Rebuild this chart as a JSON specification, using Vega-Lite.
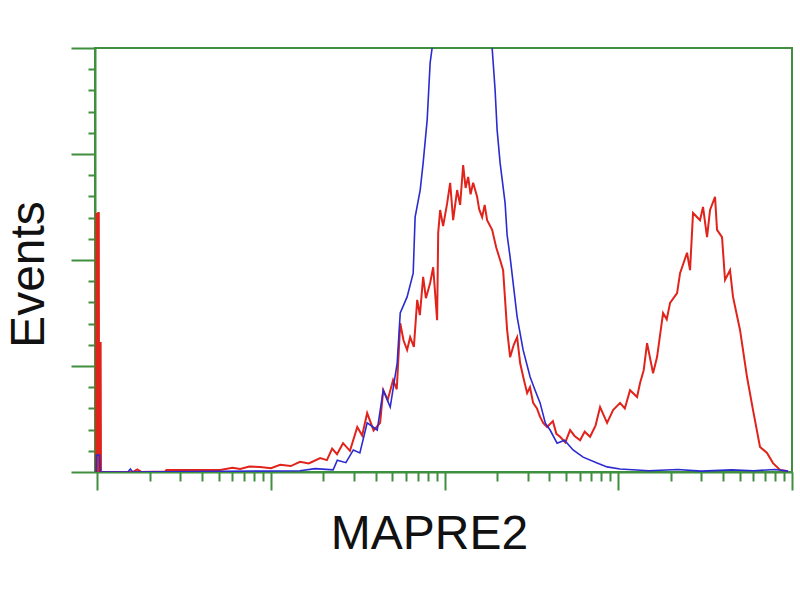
{
  "$schema": "https://vega.github.io/schema/vega-lite/v6.json",
  "width": 697,
  "height": 424,
  "autosize": "none",
  "padding": {"left": 95, "top": 48, "right": 8, "bottom": 128},
  "background": "white",
  "config": {
    "view": {"stroke": "#3f8f3f", "strokeWidth": 2},
    "font": "Liberation Sans"
  },
  "datasets": {
    "red": [
      {"v": 0.985, "n": 0}, {"v": 0.988, "n": 61.1}, {"v": 0.996, "n": 0}, {"v": 1.0, "n": 61.1},
      {"v": 1.008, "n": 0}, {"v": 1.012, "n": 61.1}, {"v": 1.02, "n": 61.1}, {"v": 1.022, "n": 30.4},
      {"v": 1.03, "n": 0}, {"v": 1.035, "n": 30.4}, {"v": 1.045, "n": 30.4}, {"v": 1.05, "n": 0},
      {"v": 1.6, "n": 0}, {"v": 1.7, "n": 0.6}, {"v": 1.8, "n": 0},
      {"v": 2.46, "n": 0.1}, {"v": 2.5, "n": 0.5}, {"v": 4.78, "n": 0.5}, {"v": 5.1, "n": 0.5},
      {"v": 6.0, "n": 1.0}, {"v": 6.65, "n": 0.7}, {"v": 7.5, "n": 1.3}, {"v": 8.67, "n": 1.2}, {"v": 10.0, "n": 0.9},
      {"v": 11.3, "n": 1.7}, {"v": 13.0, "n": 1.4}, {"v": 14.7, "n": 2.4}, {"v": 16.5, "n": 2.0},
      {"v": 19.2, "n": 3.3}, {"v": 21.0, "n": 2.8}, {"v": 22.5, "n": 5.5}, {"v": 24.0, "n": 4.2}, {"v": 26.0, "n": 6.8},
      {"v": 28.5, "n": 5.0}, {"v": 31.4, "n": 10.6}, {"v": 33.5, "n": 8.6},
      {"v": 35.8, "n": 13.9}, {"v": 39.0, "n": 9.8}, {"v": 42.5, "n": 11.6}, {"v": 44.3, "n": 19.3}, {"v": 47.0, "n": 17.0},
      {"v": 50.5, "n": 21.7}, {"v": 53.0, "n": 19.5},
      {"v": 55.5, "n": 35.1}, {"v": 58.0, "n": 31.0}, {"v": 60.8, "n": 28.8}, {"v": 63.3, "n": 31.8}, {"v": 66.5, "n": 29.5}, {"v": 69.5, "n": 40.6},
      {"v": 72.0, "n": 37.0}, {"v": 75.2, "n": 46.0}, {"v": 78.0, "n": 41.0}, {"v": 82.5, "n": 44.6}, {"v": 85.9, "n": 48.3}, {"v": 90.5, "n": 35.8},
      {"v": 91.8, "n": 56.4}, {"v": 94.2, "n": 61.8}, {"v": 98.0, "n": 58.0}, {"v": 103.4, "n": 63.4}, {"v": 107.6, "n": 68.2},
      {"v": 111.9, "n": 59.4}, {"v": 118.0, "n": 66.5}, {"v": 122.8, "n": 63.0}, {"v": 127.8, "n": 72.4}, {"v": 132.0, "n": 67.0}, {"v": 136.6, "n": 69.6},
      {"v": 141.0, "n": 65.5}, {"v": 145.9, "n": 68.2}, {"v": 153.8, "n": 64.9}, {"v": 158.0, "n": 62.0}, {"v": 164.4, "n": 60.1}, {"v": 170.0, "n": 63.0}, {"v": 175.6, "n": 59.4},
      {"v": 187.7, "n": 57.1}, {"v": 198.0, "n": 53.0}, {"v": 208.6, "n": 50.0}, {"v": 217.1, "n": 47.6}, {"v": 228.9, "n": 33.5},
      {"v": 238.2, "n": 27.1}, {"v": 250.0, "n": 30.0}, {"v": 261.4, "n": 31.8}, {"v": 272.0, "n": 25.7}, {"v": 285.0, "n": 22.0}, {"v": 298.5, "n": 18.6},
      {"v": 310.0, "n": 20.0}, {"v": 323.2, "n": 16.3}, {"v": 340.0, "n": 15.0}, {"v": 354.4, "n": 13.0}, {"v": 370.0, "n": 11.5}, {"v": 388.9, "n": 10.6}, {"v": 420.0, "n": 12.0}, {"v": 440.0, "n": 9.0}, {"v": 462.0, "n": 8.3},
      {"v": 495.0, "n": 7.0}, {"v": 527.6, "n": 9.9}, {"v": 560.0, "n": 8.5}, {"v": 602.5, "n": 7.5}, {"v": 640.0, "n": 9.5}, {"v": 687.8, "n": 8.3}, {"v": 740.0, "n": 11.0}, {"v": 785.2, "n": 15.3},
      {"v": 861.5, "n": 11.6}, {"v": 933.0, "n": 14.6}, {"v": 1023, "n": 16.3}, {"v": 1090, "n": 15.0}, {"v": 1168, "n": 19.3},
      {"v": 1282, "n": 17.7}, {"v": 1334, "n": 21.0}, {"v": 1400, "n": 24.0}, {"v": 1464, "n": 30.4}, {"v": 1585, "n": 23.3},
      {"v": 1671, "n": 27.1}, {"v": 1810, "n": 37.5}, {"v": 1900, "n": 36.0}, {"v": 1986, "n": 39.9}, {"v": 2179, "n": 42.2},
      {"v": 2267, "n": 46.9}, {"v": 2487, "n": 51.7}, {"v": 2588, "n": 47.6}, {"v": 2693, "n": 61.1},
      {"v": 2954, "n": 59.4}, {"v": 3074, "n": 62.5}, {"v": 3242, "n": 55.4}, {"v": 3374, "n": 61.8},
      {"v": 3605, "n": 64.9}, {"v": 3701, "n": 57.1}, {"v": 3955, "n": 55.4}, {"v": 4115, "n": 45.3},
      {"v": 4397, "n": 47.6}, {"v": 4575, "n": 41.3}, {"v": 5020, "n": 33.5}, {"v": 5508, "n": 22.4},
      {"v": 5965, "n": 14.6}, {"v": 6543, "n": 5.9}, {"v": 7179, "n": 4.5}, {"v": 7776, "n": 2.1},
      {"v": 8530, "n": 0.5}, {"v": 9484, "n": 0.2}
    ],
    "blue": [
      {"v": 0.985, "n": 0}, {"v": 0.99, "n": 4.0}, {"v": 1.03, "n": 4.0}, {"v": 1.04, "n": 0},
      {"v": 1.5, "n": 0}, {"v": 1.55, "n": 0.7}, {"v": 1.6, "n": 0}, {"v": 14.7, "n": 0.3},
      {"v": 18.0, "n": 0.8}, {"v": 22.8, "n": 0.5}, {"v": 24.1, "n": 2.8}, {"v": 27.0, "n": 2.2}, {"v": 29.8, "n": 5.2}, {"v": 32.5, "n": 4.5}, {"v": 35.8, "n": 11.6},
      {"v": 40.9, "n": 9.9}, {"v": 44.3, "n": 19.3}, {"v": 48.6, "n": 15.3}, {"v": 53.3, "n": 25.7},
      {"v": 55.5, "n": 37.5}, {"v": 60.8, "n": 41.3}, {"v": 65.9, "n": 46.9}, {"v": 67.6, "n": 60.1},
      {"v": 72.3, "n": 66.5}, {"v": 75.2, "n": 72.9}, {"v": 79.3, "n": 83.0}, {"v": 82.5, "n": 96.5},
      {"v": 85.9, "n": 101.9}, {"v": 95.0, "n": 115}, {"v": 110.0, "n": 125}, {"v": 130.0, "n": 128},
      {"v": 160.0, "n": 122}, {"v": 187.7, "n": 100}, {"v": 195.2, "n": 90.1}, {"v": 200.5, "n": 80.7},
      {"v": 208.6, "n": 72.9}, {"v": 222.9, "n": 63.4}, {"v": 228.9, "n": 55.9}, {"v": 238.2, "n": 50.7},
      {"v": 261.4, "n": 36.6}, {"v": 283.0, "n": 28.8}, {"v": 310.6, "n": 22.4}, {"v": 330.0, "n": 19.5}, {"v": 354.4, "n": 16.3},
      {"v": 380.0, "n": 11.5}, {"v": 404.7, "n": 9.9}, {"v": 444.0, "n": 6.8}, {"v": 490.0, "n": 7.5}, {"v": 549.0, "n": 5.2}, {"v": 627.0, "n": 3.5},
      {"v": 754.6, "n": 2.1}, {"v": 861.5, "n": 1.2}, {"v": 1023, "n": 0.7}, {"v": 1500, "n": 0.3},
      {"v": 2200, "n": 0.6}, {"v": 3000, "n": 0.2}, {"v": 4500, "n": 0.5}, {"v": 6000, "n": 0.3},
      {"v": 8000, "n": 0.6}, {"v": 9500, "n": 0.2}
    ]
  },
  "layer": [
    {
      "data": {"name": "red"},
      "mark": {"type": "line", "color": "#e0241c", "strokeWidth": 2, "clip": true},
      "encoding": {
        "x": {
          "field": "v", "type": "quantitative",
          "scale": {"type": "log", "domain": [0.97, 10000], "nice": false},
          "axis": {
            "orient": "bottom", "values": [1, 10, 100, 1000, 10000], "labels": false, "grid": false,
            "tickSize": 18, "tickWidth": 2, "tickColor": "#3f8f3f", "domainColor": "#3f8f3f", "domainWidth": 2,
            "title": "MAPRE2", "titleFontSize": 48, "titleFontWeight": "normal", "titleColor": "#111111",
            "titleFont": "Liberation Sans", "titleBaseline": "alphabetic", "titleX": 334, "titleY": 76, "titleAnchor": "middle", "titleAlign": "center"
          }
        },
        "y": {
          "field": "n", "type": "quantitative",
          "scale": {"domain": [0, 100], "nice": false},
          "axis": {
            "orient": "left", "values": [0, 25, 50, 75, 100], "labels": false, "grid": false,
            "tickSize": 24, "tickWidth": 2, "tickColor": "#3f8f3f", "domainColor": "#3f8f3f", "domainWidth": 2,
            "title": "Events", "titleFontSize": 48, "titleFontWeight": "normal", "titleColor": "#111111",
            "titleFont": "Liberation Sans", "titleAngle": -90, "titleBaseline": "alphabetic", "titleAlign": "center",
            "titleX": -52, "titleY": 226
          }
        }
      }
    },
    {
      "data": {"name": "blue"},
      "mark": {"type": "line", "color": "#2b2bd0", "strokeWidth": 1.6, "clip": true},
      "encoding": {
        "x": {
          "field": "v", "type": "quantitative",
          "scale": {"type": "log", "domain": [0.97, 10000], "nice": false},
          "axis": {
            "orient": "bottom", "values": [2, 3, 4, 5, 6, 7, 8, 9, 20, 30, 40, 50, 60, 70, 80, 90, 200, 300, 400, 500, 600, 700, 800, 900, 2000, 3000, 4000, 5000, 6000, 7000, 8000, 9000],
            "labels": false, "grid": false, "domain": false, "title": null,
            "tickSize": 9, "tickWidth": 2, "tickColor": "#3f8f3f"
          }
        },
        "y": {
          "field": "n", "type": "quantitative",
          "scale": {"domain": [0, 100], "nice": false},
          "axis": {
            "orient": "left", "values": [5, 10, 15, 20, 30, 35, 40, 45, 55, 60, 65, 70, 80, 85, 90, 95],
            "labels": false, "grid": false, "domain": false, "title": null,
            "tickSize": 7, "tickWidth": 2, "tickColor": "#3f8f3f"
          }
        }
      }
    }
  ],
  "resolve": {"axis": {"x": "independent", "y": "independent"}}
}
